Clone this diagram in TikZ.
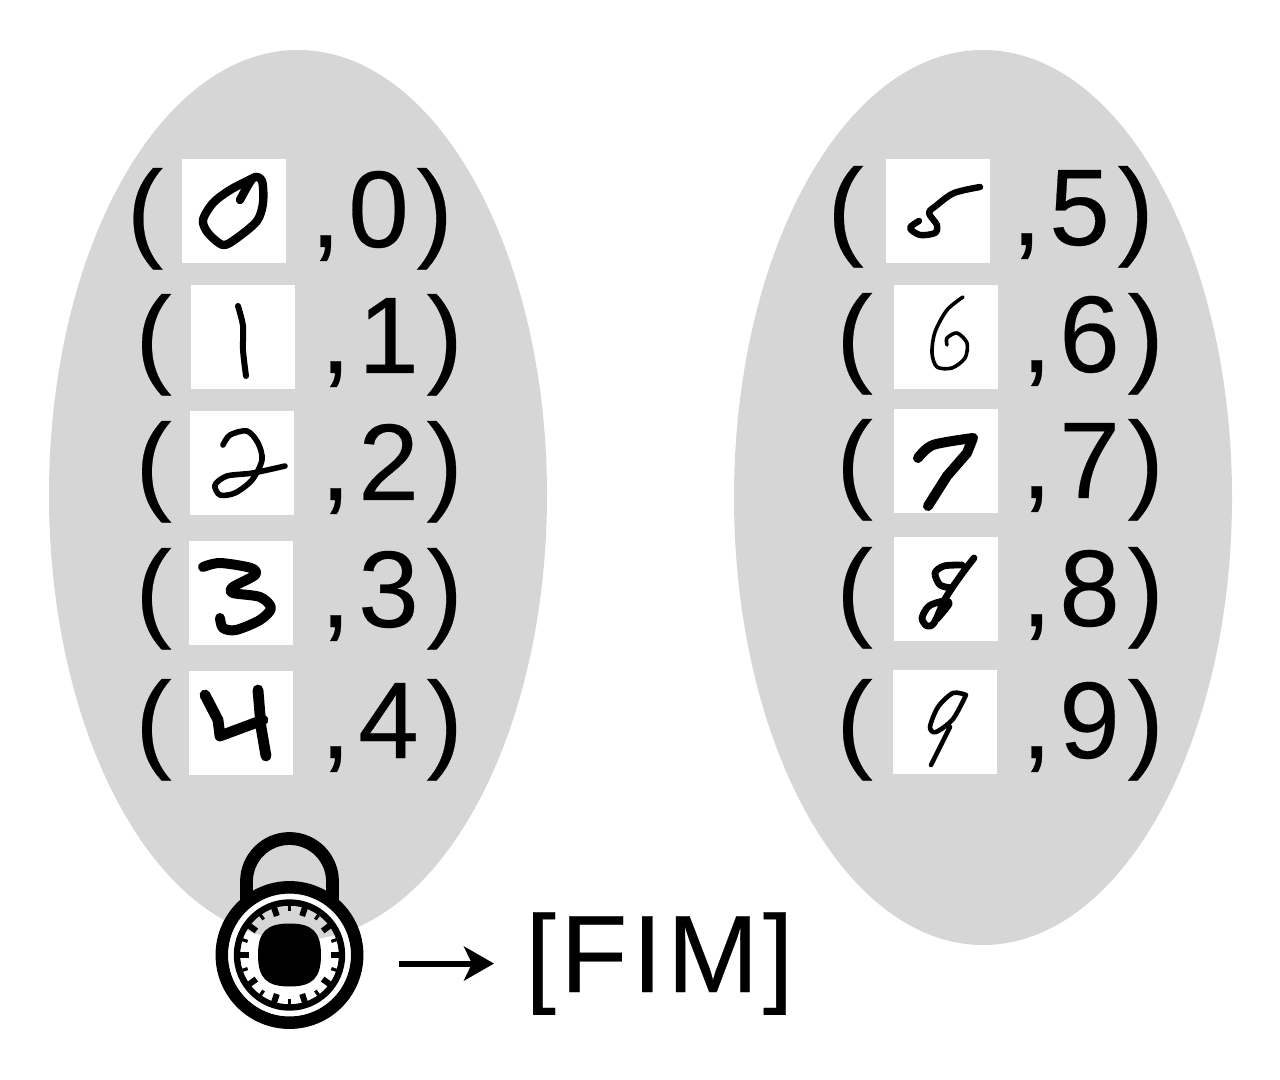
\documentclass[tikz,border=0pt]{standalone}
\usepackage{fontspec}
\setmainfont{Liberation Sans}
\usetikzlibrary{arrows.meta,shapes.geometric}
\definecolor{mygrey}{gray}{0.84}
\tikzset{
	>=latex,
	class set/.style={ellipse,fill=mygrey,inner sep=0,minimum width=249pt},
	digit box/.style={fill=white,inner sep=0,outer sep=0,minimum size=52pt,anchor=north west},
	glyph/.style={font=\fontsize{54.5}{60}\selectfont\addfontfeature{LetterSpace=7,FakeBold=0.25},anchor=base west,inner sep=0},
	fim text/.style={font=\fontsize{55}{60}\selectfont\addfontfeature{LetterSpace=4,FakeBold=0.25},anchor=base west,inner sep=0},
	pen/.style={line cap=round,line join=round,line width=#1},
	fim arrow/.style={-{Stealth[length=15pt,width=17pt,inset=4pt]},line width=3pt,shorten <=17.5pt,shorten >=15.5pt},
	tick big/.style={line width=3pt},
	tick small/.style={line width=1.6pt},
	digit 0/.pic={\draw[pen=4.2pt] plot[smooth] coordinates {(58,41) (71,19) (80,22) (81,44) (75,62) (55,79) (41,86) (26,74) (21,61) (31,44) (48,31) (71,19)};},
	digit 1/.pic={\draw[pen=3pt] plot[smooth] coordinates {(47,21) (52,41) (52,65) (55,91)};},
	digit 2/.pic={\draw[pen=2.8pt] plot[smooth] coordinates {(33,34) (40,24) (57,20) (68,32) (72,49) (62,69) (45,82) (30,84) (25,74) (37,65) (63,62) (95,55)};},
	digit 3/.pic={\draw[pen=5pt] plot[smooth] coordinates {(14,26) (31,22) (62,27) (66,34) (44,46) (44,52) (71,56) (82,67) (71,79) (47,89) (34,87) (31,77)};},
	digit 4/.pic={\draw[pen=5.4pt] (16,24) -- (29,49) -- (31,65) -- (74,49) (69,19) -- (72,56) -- (77,85);},
	digit 5/.pic={\draw[pen=3.2pt] plot[smooth] coordinates {(94,28) (68,34) (51,46) (43,54) (51,66) (49,74) (34,76) (24,69) (33,62)};},
	digit 6/.pic={\draw[pen=1.8pt] plot[smooth] coordinates {(69,12) (53,25) (41,47) (38,68) (43,82) (58,83) (71,73) (73,58) (63,48) (53,53) (53,60)};},
	digit 7/.pic={\draw[pen=5pt] plot[smooth] coordinates {(24,49) (39,36) (79,29)} (79,29) -- (73,44) -- (53,67) -- (34,97);},
	digit 8/.pic={\draw[pen=3.4pt] plot[smooth] coordinates {(80,21) (70,34) (58,51) (50,64) (40,86) (33,89) (28,81) (35,69) (50,64) (55,67) (43,82)} plot[smooth] coordinates {(58,51) (46,48) (41,36) (50,29) (68,28)};},
	digit 9/.pic={\draw[pen=2.3pt] plot[smooth] coordinates {(73,25) (60,23) (45,37) (37,57) (43,62) (60,49) (73,25)} plot[smooth] coordinates {(57,57) (47,77) (38,95)};}
}

\begin{document}
\begin{tikzpicture}[x=0.5pt,y=-0.5pt]
  \useasboundingbox (0,0) rectangle (1280,1080);

  % CLASS SETS
  \node[class set,minimum height=445pt] (set-left) at (298,495) {};
  \node[class set,minimum height=447.5pt] (set-right) at (983,497.5) {};

  % ROWS
  \foreach \i/\xo/\xs/\xc/\ys/\yb in {0/126.5/182/310/159/247, 1/135/191/320/285/373, 2/135/190/320/411/500,
      3/135/189/320/541/627, 4/135/189/320/671/758, 5/827/886/1011/159/245, 6/836/894/1021/285/372,
      7/836/894/1021/409/498, 8/836/894/1021/537/626, 9/836/893/1021/670/758}{ % loop over digits
    \node[glyph] (open-\i) at (\xo,\yb) {(};
    \node[digit box] (box-\i) at (\xs,\ys) {};
    \pic at (box-\i.north west) {digit \i};
    \node[glyph] (label-\i) at (\xc,\yb) {,\i)};
  }

  % LOCK
  \node[circle,inner sep=0,minimum size=74pt] (lock) at (289.5,955) {};
  \draw[line width=6.4pt] (246.5,905) -- (246.5,881.5) arc[start angle=180,end angle=360,radius=43] -- (332.5,905);
  \draw[line width=6.25pt] (lock.center) circle[radius=67.7];
  \draw[white,line width=2.8pt] (lock.center) circle[radius=58.2];
  \draw[line width=3.2pt] (lock.center) circle[radius=52.5];
  \foreach \a in {0,36,...,324}{ % numbered ticks of the dial
    \draw[tick big] ([shift={(\a:41)}]lock.center) -- ([shift={(\a:50)}]lock.center);
    \draw[tick small] ([shift={(\a+18:44)}]lock.center) -- ([shift={(\a+18:50)}]lock.center);
  }
  \fill ([shift={(0,-31.5)}]lock.center) .. controls +(23,0) and +(0,-23) .. ([shift={(31.5,0)}]lock.center)
    .. controls +(0,23) and +(23,0) .. ([shift={(0,31.5)}]lock.center)
    .. controls +(-23,0) and +(0,23) .. ([shift={(-31.5,0)}]lock.center)
    .. controls +(0,-23) and +(-23,0) .. ([shift={(0,-31.5)}]lock.center) -- cycle;

  % OUTPUT
  \node[fim text] (fim) at (525,992) {[FIM]};
  \draw[fim arrow] (lock.east |- fim.west) -- (fim.west);
\end{tikzpicture}
\end{document}
